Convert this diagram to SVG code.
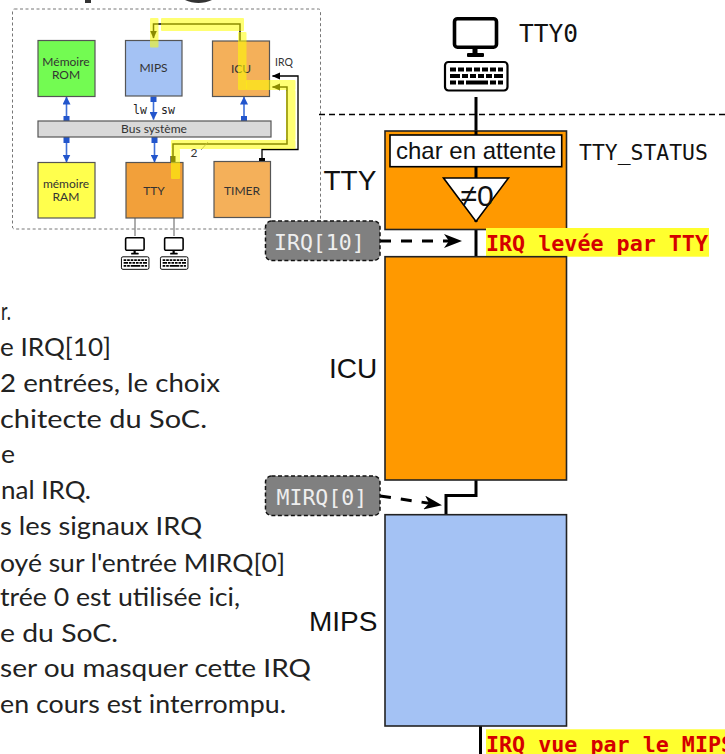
<svg xmlns="http://www.w3.org/2000/svg" width="725" height="754" viewBox="0 0 725 754">
<style>
text{font-family:"Liberation Sans",Arial,sans-serif}
.body{font-family:"Lato","Noto Sans",sans-serif;font-size:25px;fill:#222}
.mini{font-family:"Lato","Noto Sans",sans-serif;font-size:12px;fill:#333;text-anchor:middle}
.mono{font-family:"DejaVu Sans Mono",monospace}
.mb{stroke:#555;stroke-width:1.2}
.big{stroke:#222;stroke-width:1.6}
.lab{font-size:28px;fill:#111}
.tag{fill:#808080;stroke:#111;stroke-width:1.5;stroke-dasharray:4 2.5}
.tagt{font-family:"DejaVu Sans Mono",monospace;font-size:21.5px;fill:#eee}
.red{font-family:"DejaVu Sans Mono",monospace;font-weight:bold;font-size:21.7px;fill:#d40000}
.wire{fill:none;stroke:#000;stroke-width:3}
.dash{fill:none;stroke:#000;stroke-width:3;stroke-dasharray:11 10}
.blue{stroke:#3f6fd8;stroke-width:1.6;fill:none}
.sq{fill:#2255cc}
.hl{fill:#ffff00;opacity:.55}
</style>
<defs>
<marker id="stealth" viewBox="0 0 18 14" refX="17" refY="7" markerWidth="18" markerHeight="14" markerUnits="userSpaceOnUse" orient="auto"><path d="M0 0L18 7L0 14L5 7Z" fill="#000"/></marker>
<marker id="ba" viewBox="0 0 8 8" refX="7.5" refY="4" markerWidth="8" markerHeight="8" markerUnits="userSpaceOnUse" orient="auto"><path d="M0 0L8 4L0 8Z" fill="#2255cc"/></marker>
<marker id="ka" viewBox="0 0 8 8" refX="7.5" refY="4" markerWidth="8" markerHeight="8" markerUnits="userSpaceOnUse" orient="auto"><path d="M0 0.5L8 4L0 7.5Z" fill="#000"/></marker>
<g id="pc">
<rect x="10.5" y="1.7" width="42" height="28.5" rx="3" fill="#fff" stroke="#000" stroke-width="3.6"/>
<rect x="28.5" y="31" width="5" height="6" fill="#000"/>
<rect x="23" y="36" width="17" height="4" rx="1" fill="#000"/>
<rect x="1" y="45" width="62.5" height="28.5" rx="3.5" fill="#fff" stroke="#000" stroke-width="2.2"/>
<path d="M6 50.5h6v4h-6zM14 50.5h6v4h-6zM22 50.5h6v4h-6zM30 50.5h6v4h-6zM38 50.5h6v4h-6zM46 50.5h6v4h-6zM54 50.5h5v4h-5zM6 57h10v4h-10zM18 57h6v4h-6zM26 57h6v4h-6zM34 57h6v4h-6zM42 57h6v4h-6zM50 57h9v4h-9zM6 63.5h6v4h-6zM14 63.5h6v4h-6zM22 63.5h22v4h-22zM46 63.5h6v4h-6zM54 63.5h5v4h-5z" fill="#000"/>
</g>
</defs>

<path d="M85 0h6v3h-6zM185 0h27c-4 2-9 3-13.500 3s-9.500-1-13.500-3z" fill="#333"/>

<g id="soc-frame"><rect x="12.500" y="9" width="308" height="220" rx="2" fill="none" stroke="#777" stroke-width="1" stroke-dasharray="3 2.500"/></g>

<g id="connectors">
<path class="wire" d="M476 97V256"/>
<path class="wire" d="M476 480V495.500H446V514"/>
<path class="wire" d="M480.500 726V754"/>
<path d="M319 114.500H725" fill="none" stroke="#000" stroke-width="1.300" stroke-dasharray="6 4"/>
<path class="dash" d="M380 241H461" marker-end="url(#stealth)"/>
<path class="dash" d="M380 496L441 505" marker-end="url(#stealth)"/>
<path class="blue" d="M66.500 118V97" marker-end="url(#ba)"/>
<path class="blue" d="M153.500 99V119.500" marker-end="url(#ba)"/>
<path class="blue" d="M244 118V97" marker-end="url(#ba)"/>
<path class="blue" d="M66.500 140V162" marker-end="url(#ba)"/>
<path class="blue" d="M154.500 140V162" marker-end="url(#ba)"/>
<path d="M135 218V236M174 218V236" stroke="#777" stroke-width="1.200" fill="none"/>
<path d="M262 161V149.500H298V76H272.500" fill="none" stroke="#000" stroke-width="1.300" marker-end="url(#ka)"/>
<path d="M173 158V144H287V87H272.500" fill="none" stroke="#000" stroke-width="1.500" marker-end="url(#ka)"/>
<path d="M240 41V24H153.500V38" fill="none" stroke="#000" stroke-width="1.500" marker-end="url(#ka)"/>
<path d="M201 150L208 142" stroke="#777" stroke-width="0.800" fill="none"/>
<rect class="sq" x="63.500" y="116" width="6" height="5"/>
<rect class="sq" x="150.500" y="96.500" width="6" height="5.500"/>
<rect class="sq" x="241" y="116" width="6" height="5"/>
<rect class="sq" x="63.500" y="137" width="6" height="6"/>
<rect class="sq" x="151.500" y="137" width="6" height="6"/>
<rect x="259" y="158" width="6" height="4" fill="#000"/>
<rect x="170.500" y="156" width="5" height="6" fill="#000"/>
</g>

<g id="rom"><rect class="mb" x="38" y="40.500" width="57" height="56" fill="#73fb52"/><text class="mini" y="66"><tspan x="66">Mémoire</tspan><tspan x="66" dy="13">ROM</tspan></text></g>
<g id="mips-mini"><rect class="mb" x="125.500" y="40.500" width="56.500" height="55.500" fill="#a4c2f4"/><text class="mini" x="153.500" y="72">MIPS</text></g>
<g id="icu-mini"><rect class="mb" x="212.500" y="41" width="57" height="55.500" fill="#f4b05a"/><text class="mini" x="241" y="73">ICU</text></g>
<g id="bus"><rect class="mb" x="38" y="121" width="233" height="16" fill="#d9d9d9"/><text class="mini" x="154" y="133">Bus système</text></g>
<g id="ram"><rect class="mb" x="38" y="162.500" width="57" height="55.500" fill="#ffff4d"/><text class="mini" y="188"><tspan x="66">mémoire</tspan><tspan x="66" dy="13">RAM</tspan></text></g>
<g id="tty-mini"><rect class="mb" x="126" y="162.500" width="57" height="55.500" fill="#f2a03a"/><text class="mini" x="154" y="195">TTY</text></g>
<g id="timer"><rect class="mb" x="214" y="161.500" width="56.500" height="56" fill="#f4b05a"/><text class="mini" x="242" y="195">TIMER</text></g>

<g id="mini-labels">
<text class="mini" x="284" y="66" style="font-size:10.500px">IRQ</text>
<text class="mono" x="133" y="114" font-size="11.500" fill="#222">lw</text>
<text class="mono" x="161" y="114" font-size="11.500" fill="#222">sw</text>
<text class="mini" x="194" y="157">2</text>
</g>

<g id="highlight">
<rect class="hl" x="150" y="18" width="8.500" height="29.500" rx="1"/>
<rect class="hl" x="161" y="18" width="83" height="13" rx="1"/>
<rect class="hl" x="238" y="32" width="8.500" height="58" rx="1"/>
<rect class="hl" x="246" y="80" width="49.500" height="10" rx="1"/>
<rect class="hl" x="286" y="90" width="9.500" height="50" rx="1"/>
<rect class="hl" x="171" y="140" width="124.500" height="9" rx="1"/>
<rect class="hl" x="171" y="149" width="9" height="30" rx="1"/>
</g>

<use id="pc-mini-1" href="#pc" transform="translate(121 237) scale(.44)"/>
<use id="pc-mini-2" href="#pc" transform="translate(160 237) scale(.44)"/>

<g id="body-text">
<text class="body" x="1" y="320" textLength="10" lengthAdjust="spacingAndGlyphs">r.</text>
<text class="body" x="0" y="356" textLength="111" lengthAdjust="spacingAndGlyphs">e IRQ[10]</text>
<text class="body" x="0" y="392" textLength="220" lengthAdjust="spacingAndGlyphs">2 entrées, le choix</text>
<text class="body" x="0" y="428" textLength="207" lengthAdjust="spacingAndGlyphs">chitecte du SoC.</text>
<text class="body" x="1" y="463" textLength="14" lengthAdjust="spacingAndGlyphs">e</text>
<text class="body" x="1" y="499" textLength="90" lengthAdjust="spacingAndGlyphs">nal IRQ.</text>
<text class="body" x="0" y="535" textLength="202" lengthAdjust="spacingAndGlyphs">s les signaux IRQ</text>
<text class="body" x="0" y="572" textLength="285" lengthAdjust="spacingAndGlyphs">oyé sur l'entrée MIRQ[0]</text>
<text class="body" x="0" y="606" textLength="240" lengthAdjust="spacingAndGlyphs">trée 0 est utilisée ici,</text>
<text class="body" x="0" y="642" textLength="118" lengthAdjust="spacingAndGlyphs">e du SoC.</text>
<text class="body" x="0" y="677" textLength="311" lengthAdjust="spacingAndGlyphs">ser ou masquer cette IRQ</text>
<text class="body" x="0" y="713" textLength="286" lengthAdjust="spacingAndGlyphs">en cours est interrompu.</text>
</g>

<g id="terminal">
<use href="#pc" transform="translate(444 17)"/>
<text class="mono" x="519" y="41.500" font-size="24.500" fill="#111">TTY0</text>
</g>

<g id="tty">
<rect class="big" x="385" y="131" width="181.500" height="98.500" fill="#ff9900"/>
<path class="wire" d="M476 131V222"/>
<g id="tty-status">
<rect x="390" y="135" width="171.700" height="31.700" fill="#fff" stroke="#000" stroke-width="1.600"/>
<text x="476" y="159" font-size="24" text-anchor="middle" fill="#111">char en attente</text>
</g>
<g id="neq">
<path d="M443.500 178H508.500L476 221.500Z" fill="#fff" stroke="#000" stroke-width="1.600"/>
<text x="477" y="206" font-size="30" text-anchor="middle" fill="#111">≠0</text>
</g>
<text class="lab" x="323.500" y="190">TTY</text>
<text class="mono" x="579" y="160" font-size="21.400" fill="#111">TTY_STATUS</text>
</g>

<g id="irq10"><rect class="tag" x="265.500" y="221" width="114.500" height="39.500" rx="6"/><text class="tagt" x="274" y="250">IRQ[10]</text></g>
<g id="irq-tty-note"><rect x="486" y="228" width="223" height="28.700" fill="#ffff2e"/><text class="red" x="486" y="250.700">IRQ levée par TTY</text></g>

<g id="icu"><rect class="big" x="385" y="256.700" width="181.500" height="223.300" fill="#ff9900"/><text class="lab" x="329" y="378">ICU</text></g>
<g id="mirq0"><rect class="tag" x="265.500" y="476" width="114.500" height="39.500" rx="6"/><text class="tagt" x="276.500" y="505">MIRQ[0]</text></g>
<g id="mips"><rect class="big" x="385" y="514.700" width="181.500" height="211.300" fill="#a4c2f4"/><text class="lab" x="309" y="631">MIPS</text></g>
<g id="irq-mips-note"><rect x="486" y="729.300" width="239" height="24.700" fill="#ffff2e"/><text class="red" x="486" y="751.700">IRQ vue par le MIPS</text></g>
</svg>
